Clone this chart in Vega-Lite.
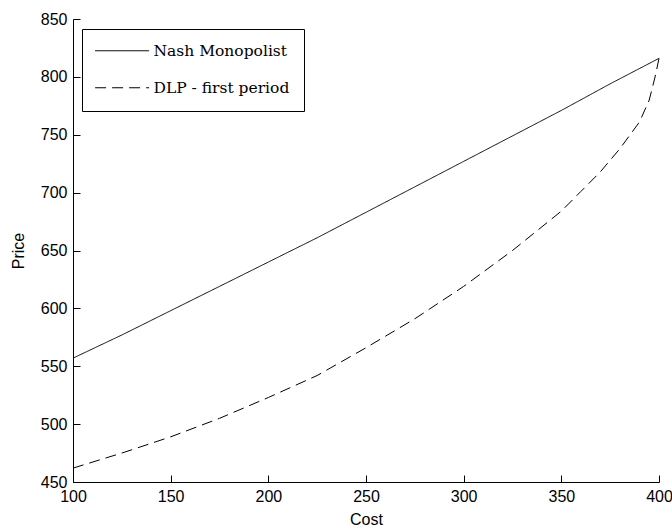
{
  "$schema": "https://vega.github.io/schema/vega-lite/v6.json",
  "width": 586,
  "height": 463,
  "autosize": {"type": "none"},
  "padding": {"left": 73, "top": 19, "right": 13, "bottom": 45},
  "background": "white",
  "config": {
    "view": {"stroke": null},
    "axis": {
      "domainColor": "black",
      "domainWidth": 1,
      "tickColor": "black",
      "tickWidth": 1,
      "tickSize": -7,
      "labelColor": "black",
      "titleColor": "black",
      "labelFont": "Liberation Sans",
      "titleFont": "Liberation Sans",
      "labelFontSize": 16,
      "titleFontSize": 16,
      "titleFontWeight": "normal",
      "grid": false,
      "labelFlush": false,
      "labelOverlap": false,
      "labelPadding": 13
    }
  },
  "data": {
    "values": [
      {"cost": 100, "price": 557, "series": "Nash Monopolist"},
      {"cost": 125, "price": 577, "series": "Nash Monopolist"},
      {"cost": 150, "price": 598, "series": "Nash Monopolist"},
      {"cost": 175, "price": 619, "series": "Nash Monopolist"},
      {"cost": 200, "price": 640, "series": "Nash Monopolist"},
      {"cost": 225, "price": 661, "series": "Nash Monopolist"},
      {"cost": 250, "price": 683, "series": "Nash Monopolist"},
      {"cost": 275, "price": 705, "series": "Nash Monopolist"},
      {"cost": 300, "price": 727, "series": "Nash Monopolist"},
      {"cost": 325, "price": 749, "series": "Nash Monopolist"},
      {"cost": 350, "price": 771, "series": "Nash Monopolist"},
      {"cost": 375, "price": 794, "series": "Nash Monopolist"},
      {"cost": 400, "price": 816, "series": "Nash Monopolist"},
      {"cost": 100, "price": 462, "series": "DLP - first period"},
      {"cost": 125, "price": 475, "series": "DLP - first period"},
      {"cost": 150, "price": 489, "series": "DLP - first period"},
      {"cost": 175, "price": 505, "series": "DLP - first period"},
      {"cost": 200, "price": 523, "series": "DLP - first period"},
      {"cost": 225, "price": 542, "series": "DLP - first period"},
      {"cost": 250, "price": 566, "series": "DLP - first period"},
      {"cost": 275, "price": 591, "series": "DLP - first period"},
      {"cost": 300, "price": 619, "series": "DLP - first period"},
      {"cost": 325, "price": 650, "series": "DLP - first period"},
      {"cost": 350, "price": 684, "series": "DLP - first period"},
      {"cost": 360, "price": 701, "series": "DLP - first period"},
      {"cost": 370, "price": 718, "series": "DLP - first period"},
      {"cost": 380, "price": 738, "series": "DLP - first period"},
      {"cost": 390, "price": 761, "series": "DLP - first period"},
      {"cost": 395, "price": 780, "series": "DLP - first period"},
      {"cost": 398, "price": 800, "series": "DLP - first period"},
      {"cost": 400, "price": 816, "series": "DLP - first period"}
    ]
  },
  "mark": {"type": "line", "color": "black", "strokeWidth": 1},
  "encoding": {
    "x": {
      "field": "cost",
      "type": "quantitative",
      "scale": {"domain": [100, 400], "nice": false, "zero": false},
      "axis": {"title": "Cost", "values": [100, 150, 200, 250, 300, 350, 400], "titleBaseline": "middle", "titleY": 37}
    },
    "y": {
      "field": "price",
      "type": "quantitative",
      "scale": {"domain": [450, 850], "nice": false, "zero": false},
      "axis": {"title": "Price", "values": [450, 500, 550, 600, 650, 700, 750, 800, 850], "titleBaseline": "middle", "titleX": -55}
    },
    "strokeDash": {
      "field": "series",
      "type": "nominal",
      "scale": {"domain": ["Nash Monopolist", "DLP - first period"], "range": [[1, 0], [11, 6]]},
      "legend": {
        "title": null,
        "orient": "none",
        "legendX": 9,
        "legendY": 10,
        "strokeColor": "black",
        "fillColor": "white",
        "padding": 14,
        "rowPadding": 20,
        "symbolType": "M-1.6,0H8.4",
        "symbolSize": 116.6,
        "symbolStrokeWidth": 1,
        "symbolStrokeColor": "black",
        "labelFont": "DejaVu Serif",
        "labelFontSize": 15.5,
        "labelOffset": 42,
        "labelColor": "black",
        "cornerRadius": 0
      }
    }
  }
}
